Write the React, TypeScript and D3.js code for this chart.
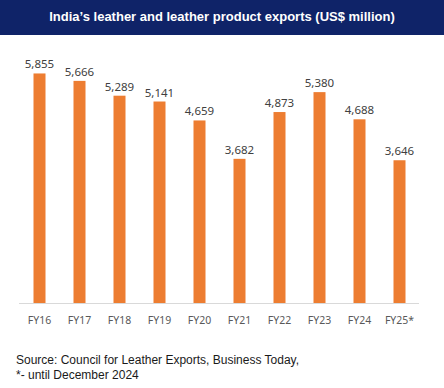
import { useEffect, useRef } from 'react';
import * as d3 from 'd3';

const years = ['FY16', 'FY17', 'FY18', 'FY19', 'FY20', 'FY21', 'FY22', 'FY23', 'FY24', 'FY25*'];
const exportsUsd = [5855, 5666, 5289, 5141, 4659, 3682, 4873, 5380, 4688, 3646];
const titleText = 'India\u2019s leather and leather product exports (US$ million)';
const sourceLines = ['Source: Council for Leather Exports, Business Today,', '*- until December 2024'];

const W = 444;
const H = 388;

const App = () => {
    const svgRef = useRef<SVGSVGElement>(null);

    useEffect(() => {
        const svg = d3.select(svgRef.current);
        svg.selectAll('*').remove();

        svg.append('rect').attr('width', W).attr('height', H).attr('fill', '#fff');

        // title band
        svg.append('rect').attr('x', 0).attr('y', 0).attr('width', W).attr('height', 35).attr('fill', '#0f2368');
        svg.append('text')
            .attr('x', W / 2)
            .attr('y', 21)
            .attr('text-anchor', 'middle')
            .attr('fill', '#fff')
            .style('font-family', '"Liberation Sans", Arial, sans-serif')
            .style('font-weight', 'bold')
            .style('font-size', '13px')
            .text(titleText);

        const x = d3.scaleBand().domain(years).range([19.5, 419.5]).paddingInner(0.7).paddingOuter(0.35);
        const baseY = 303.5;
        const y = d3.scaleLinear().domain([0, 6000]).range([baseY, baseY - 6000 * 0.03929]);

        const g = svg.append('g');

        g.selectAll('rect.bar')
            .data(exportsUsd)
            .join('rect')
            .attr('class', 'bar')
            .attr('x', (d, i) => x(years[i])!)
            .attr('y', d => y(d))
            .attr('width', x.bandwidth())
            .attr('height', d => baseY - y(d))
            .attr('fill', '#ed7d31');

        g.append('line')
            .attr('x1', 19).attr('x2', 419)
            .attr('y1', baseY).attr('y2', baseY)
            .attr('stroke', '#d9d9d9')
            .attr('stroke-width', 1);

        g.selectAll('text.val')
            .data(exportsUsd)
            .join('text')
            .attr('class', 'val')
            .attr('x', (d, i) => x(years[i])! + x.bandwidth() / 2)
            .attr('y', d => y(d) - 5)
            .attr('text-anchor', 'middle')
            .attr('fill', '#404040')
            .style('font-family', '"Noto Sans", "Open Sans", sans-serif')
            .style('font-size', '11.5px')
            .text(d => d3.format(',')(d));

        g.selectAll('text.cat')
            .data(years)
            .join('text')
            .attr('class', 'cat')
            .attr('x', d => x(d)! + x.bandwidth() / 2)
            .attr('y', 324)
            .attr('text-anchor', 'middle')
            .attr('fill', '#595959')
            .style('font-family', '"Noto Sans", "Open Sans", sans-serif')
            .style('font-size', '10.5px')
            .text(d => d);

        svg.selectAll('text.src')
            .data(sourceLines)
            .join('text')
            .attr('class', 'src')
            .attr('x', 16)
            .attr('y', (d, i) => 364 + i * 15)
            .attr('fill', '#1a1a1a')
            .style('font-family', '"Liberation Sans", Arial, sans-serif')
            .style('font-size', '12px')
            .text(d => d);
    }, []);

    return (
        <svg
            ref={svgRef}
            width={W}
            height={H}
            viewBox={`0 0 ${W} ${H}`}
            style={{ position: 'absolute', left: 0, top: 0, display: 'block' }}
        />
    );
};

export default App;
